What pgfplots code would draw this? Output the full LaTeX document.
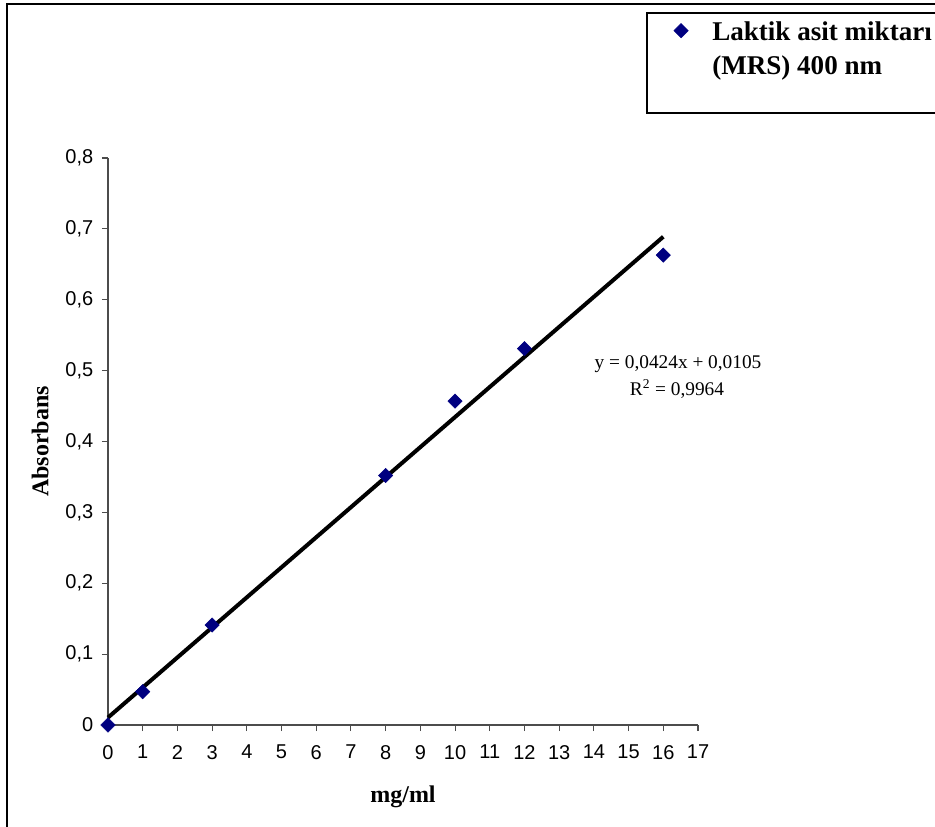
\documentclass[border=0pt]{standalone}
\usepackage{pgfplots}
\pgfplotsset{compat=1.18}
\usepackage{fontspec}
\setmainfont{Liberation Serif}
\newfontfamily\arial{Liberation Sans}
\definecolor{navymark}{HTML}{000080}

\begin{document}
\begin{tikzpicture}
  % pixel grid of the reference: (px,py) from the top-left corner, axis origin at (108,725)
  \begin{scope}[x=0.75pt, y=-0.75pt, shift={(-108,-725)}]
    \useasboundingbox (0,0) rectangle (935,826);
  \end{scope}
  \clip (-81pt,-75.75pt) rectangle ++(701.25pt,619.5pt);
  \begin{scope}[x=0.75pt, y=-0.75pt, shift={(-108,-725)}]
    \draw[line width=1.2pt] (7,4) rectangle (970,850);
    \draw[line width=0.8pt] (647,13) rectangle (970,113);
    \node[anchor=base, font=\fontsize{14.5}{17}\selectfont] at (678,368) {y = 0,0424x + 0,0105};
    \node[anchor=base, font=\fontsize{14.5}{17}\selectfont] at (677,395) {R\textsuperscript{2} = 0,9964};
  \end{scope}

  \begin{axis}[
      scale only axis,
      width=442.5pt, height=425.25pt,
      xmin=0, xmax=17, ymin=0, ymax=0.8,
      axis lines=left,
      axis line style={-, draw=black!70, line width=0.8pt},
      xtick distance=1, ytick distance=0.1,
      tick align=outside,
      major tick length=4.5pt,
      tick style={draw=black!70, line width=0.8pt},
      ticklabel style={font=\arial\fontsize{15}{17}\selectfont},
      xticklabel style={yshift=-7pt},
      yticklabel style={xshift=-3pt, /pgf/number format/fixed},
      /pgf/number format/assume math mode=true,
      /pgf/number format/use comma,
      xlabel={mg/ml},
      ylabel={Absorbans},
      label style={font=\bfseries\fontsize{18}{21}\selectfont},
      xlabel style={at={(axis description cs:0.5,-0.127)}, anchor=center},
      ylabel style={at={(axis description cs:-0.115,0.5)}, anchor=center},
      legend style={at={(axis description cs:0.952,1.256)}, anchor=north west,
        draw=none, fill=none,
        font=\bfseries\fontsize{20.3}{24}\selectfont},
      legend cell align=left,
      clip=false,
    ]
    \addplot[only marks, mark=square*, mark size=3.8pt,
      mark options={rotate=45, fill=navymark, draw=navymark}]
      table {
        x   y
        0   0
        1   0.047
        3   0.141
        8   0.352
        10  0.457
        12  0.531
        16  0.663
      };
    \addlegendentry{\hspace*{16pt}\begin{tabular}[t]{@{}l@{}}Laktik asit miktarı\\[1pt](MRS) 400 nm\end{tabular}}
    % linear trendline y = 0.0424x + 0.0105
    \addplot[forget plot, black, line width=3pt] coordinates {(0,0.0105) (16,0.6889)};
  \end{axis}
\end{tikzpicture}
\end{document}
